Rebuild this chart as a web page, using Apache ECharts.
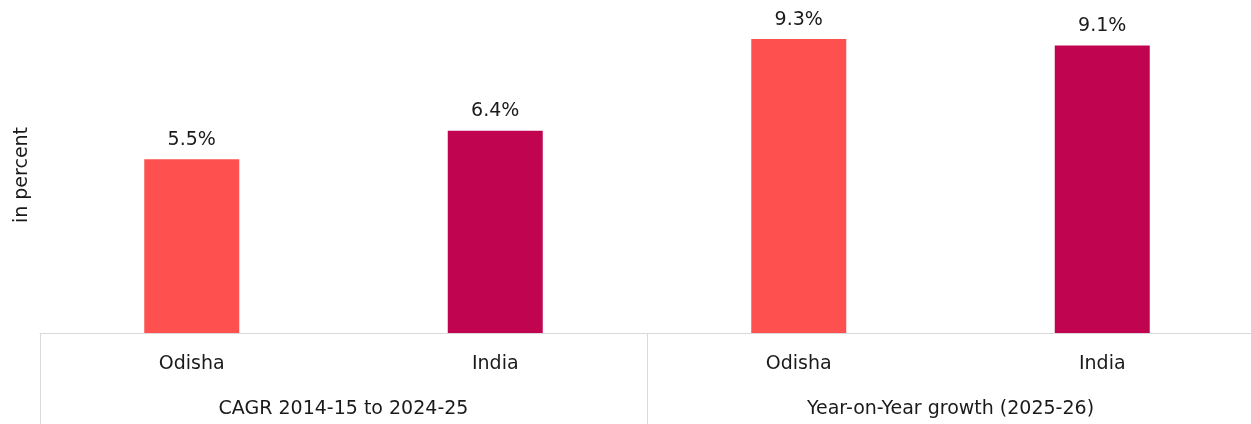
<!DOCTYPE html>
<html><head><meta charset="utf-8">
<script src="https://cdn.jsdelivr.net/npm/echarts@6/dist/echarts.min.js"></script>
<style>html,body{margin:0;padding:0;background:#fff}#c{width:1251px;height:424px}</style>
</head><body><div id="c"></div>
<script>
const categories = ['Odisha', 'India', 'Odisha', 'India'];
const groups = ['CAGR 2014-15 to 2024-25', 'Year-on-Year growth (2025-26)'];
const values = [5.5, 6.4, 9.3, 9.1];
const barColors = ['#FF5050', '#C0044F', '#FF5050', '#C0044F'];
const yName = 'in percent';

const chart = echarts.init(document.getElementById('c'));
const font = 'DejaVu Sans';
const fs = 19;
chart.setOption({
  animation: false,
  grid: { left: 40, right: -3, top: 17, bottom: 91, containLabel: false, outerBoundsMode: 'none' },
  xAxis: [
    {
      type: 'category', data: categories, position: 'bottom',
      axisLine: { show: true, lineStyle: { color: '#d9d9d9', width: 1 } },
      axisTick: { show: false },
      axisLabel: { color: '#1a1a1a', fontSize: fs, fontFamily: font, margin: 22, interval: 0 }
    },
    {
      type: 'category', data: groups, position: 'bottom',
      axisLine: { show: false },
      axisTick: { show: true, length: 91, interval: 0, lineStyle: { color: '#d9d9d9', width: 1 } },
      axisLabel: { color: '#1a1a1a', fontSize: fs, fontFamily: font, margin: 67, interval: 0 }
    }
  ],
  yAxis: {
    type: 'value', min: 0, max: 10,
    name: yName, nameLocation: 'middle', nameGap: 8, nameRotate: 90,
    nameTextStyle: { color: '#1a1a1a', fontSize: fs, fontFamily: font },
    axisLine: { show: false }, axisTick: { show: false }, axisLabel: { show: false },
    splitLine: { show: false }
  },
  series: [{
    type: 'bar', xAxisIndex: 0, barWidth: 95,
    data: values.map((v, i) => ({ value: v, itemStyle: { color: barColors[i] } })),
    label: { show: true, position: 'top', distance: 10, formatter: p => p.value.toFixed(1) + '%',
      color: '#1a1a1a', fontSize: fs, fontFamily: font }
  }]
});
</script></body></html>
